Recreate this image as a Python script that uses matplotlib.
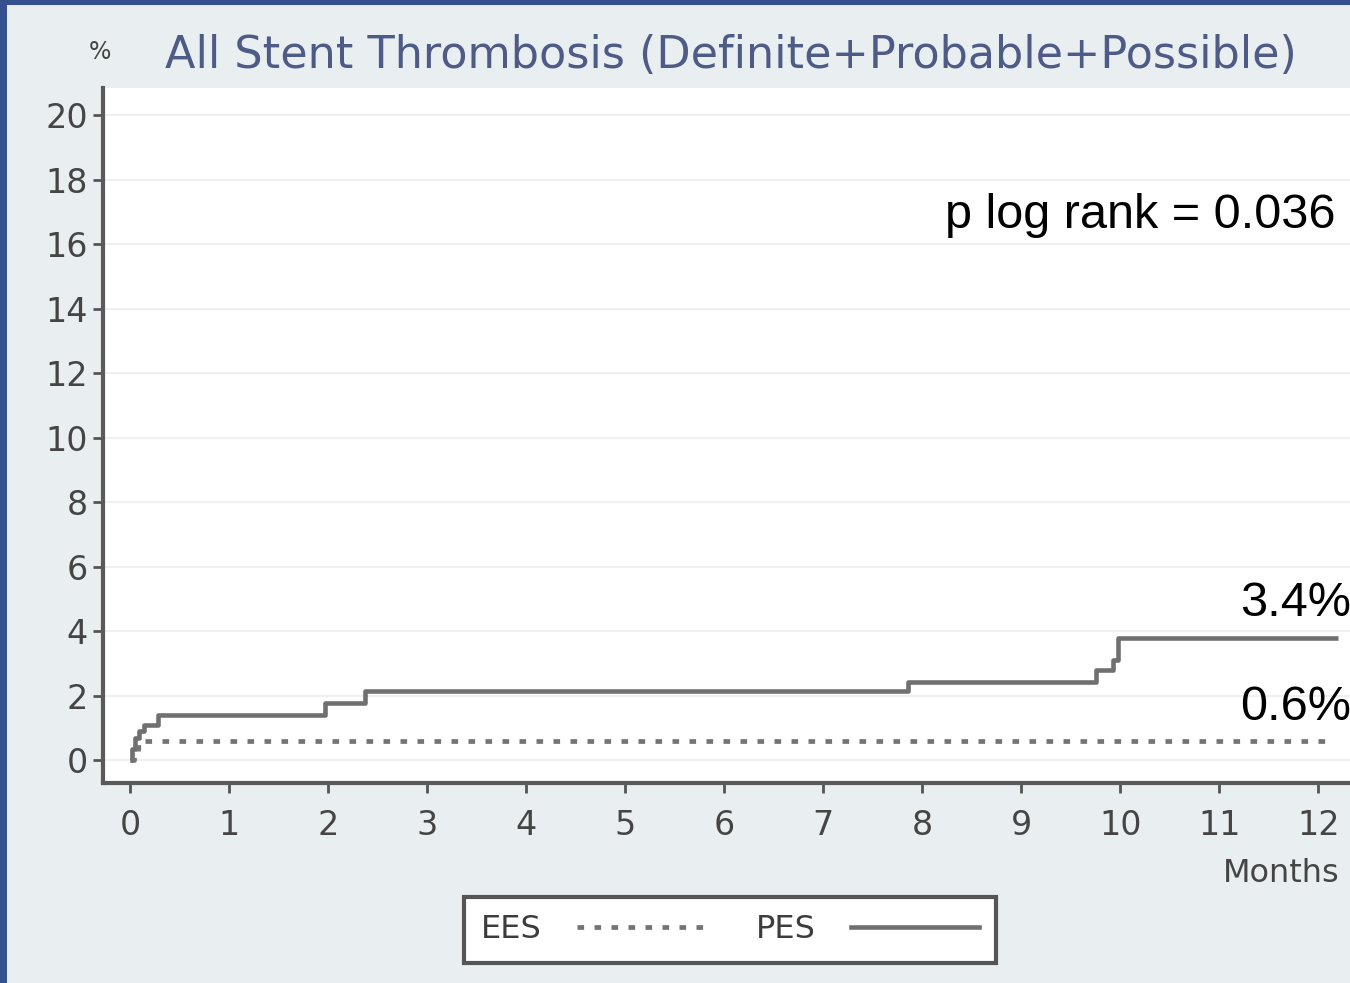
import matplotlib.pyplot as plt
from matplotlib.patches import Rectangle
from matplotlib.lines import Line2D

# Kaplan-Meier style step data (months, cumulative %)
pes_months = [0, 0.02, 0.05, 0.09, 0.14, 0.28, 1.97, 2.37, 7.86, 9.75, 9.93, 9.98, 12.2]
pes_pct = [0, 0.35, 0.7, 0.9, 1.1, 1.4, 1.77, 2.14, 2.42, 2.79, 3.1, 3.78, 3.78]
ees_months = [0, 0.04, 0.08, 0.12, 12.12]
ees_pct = [0, 0.2, 0.4, 0.6, 0.6]

x_ticks = list(range(0, 13))
y_ticks = list(range(0, 21, 2))

title = 'All Stent Thrombosis (Definite+Probable+Possible)'
p_text = 'p log rank = 0.036'
pes_label = '3.4%'
ees_label = '0.6%'

W, H = 1350, 983
fig = plt.figure(figsize=(W / 100, H / 100), dpi=100)
fig.patch.set_facecolor('#e9eef1')
# blue slide border on top and left
fig.patches.append(Rectangle((0, 1 - 5 / H), 1, 5 / H, transform=fig.transFigure,
                             facecolor='#34508f', edgecolor='none'))
fig.patches.append(Rectangle((0, 0), 7 / W, 1, transform=fig.transFigure,
                             facecolor='#34508f', edgecolor='none'))

ax = fig.add_axes([103 / W, 1 - 783 / H, 1 - 103 / W, (783 - 88) / H])
ax.set_facecolor('white')

ax.step(pes_months, pes_pct, where='post', color='#707070', lw=3.3, solid_capstyle='butt')
ax.step(ees_months, ees_pct, where='post', color='#747474', lw=3.4,
        linestyle=(0, (1.4, 2.2)))

ax.set_xlim(-0.273, 12.32)
ax.set_ylim(-0.71, 20.84)
ax.set_xticks(x_ticks)
ax.set_yticks(y_ticks)
ax.tick_params(axis='both', direction='out', length=7, width=2, color='#555555',
               labelsize=24, labelcolor='#454545')
ax.tick_params(axis='x', pad=12)
ax.tick_params(axis='y', pad=4)
ax.yaxis.grid(True, color='#f0f0f0', lw=1.5)
ax.set_axisbelow(True)
for s in ['top', 'right']:
    ax.spines[s].set_visible(False)
for s in ['left', 'bottom']:
    ax.spines[s].set_color('#5a5a5a')
    ax.spines[s].set_linewidth(3)

fig.text(100 / W, 1 - 52 / H, '%', fontsize=17, color='#444444', ha='center', va='center')
fig.text(165 / W, 1 - 55 / H, title, fontsize=32, color='#4d5b86', ha='left', va='center')

ax.text(12.17, 16.9, p_text, fontsize=35, family='Liberation Sans', ha='right', va='center')
ax.text(11.21, 4.87, pes_label, fontsize=35, family='Liberation Sans', ha='left', va='center')
ax.text(11.21, 1.64, ees_label, fontsize=35, family='Liberation Sans', ha='left', va='center')

fig.text(1340 / W, 1 - 873 / H, 'Months', fontsize=23, color='#454545', ha='right', va='center')

handles = [Line2D([], [], color='#747474', lw=3.4, linestyle=(0, (1.4, 2.2))),
           Line2D([], [], color='#707070', lw=3.3)]
leg = fig.legend(handles, ['EES', 'PES'], loc='center', bbox_to_anchor=(730 / W, 1 - 930 / H),
                 ncol=2, fontsize=23, frameon=True, fancybox=False, markerfirst=False,
                 handlelength=4.0, columnspacing=1.6, handletextpad=1.1, borderpad=0.55)
leg.get_frame().set_edgecolor('#555555')
leg.get_frame().set_linewidth(3)
leg.get_frame().set_facecolor('white')
leg.get_frame().set_alpha(1)
for t in leg.get_texts():
    t.set_color('#3c3c3c')

fig.savefig('out.png', dpi=100, facecolor=fig.get_facecolor())
